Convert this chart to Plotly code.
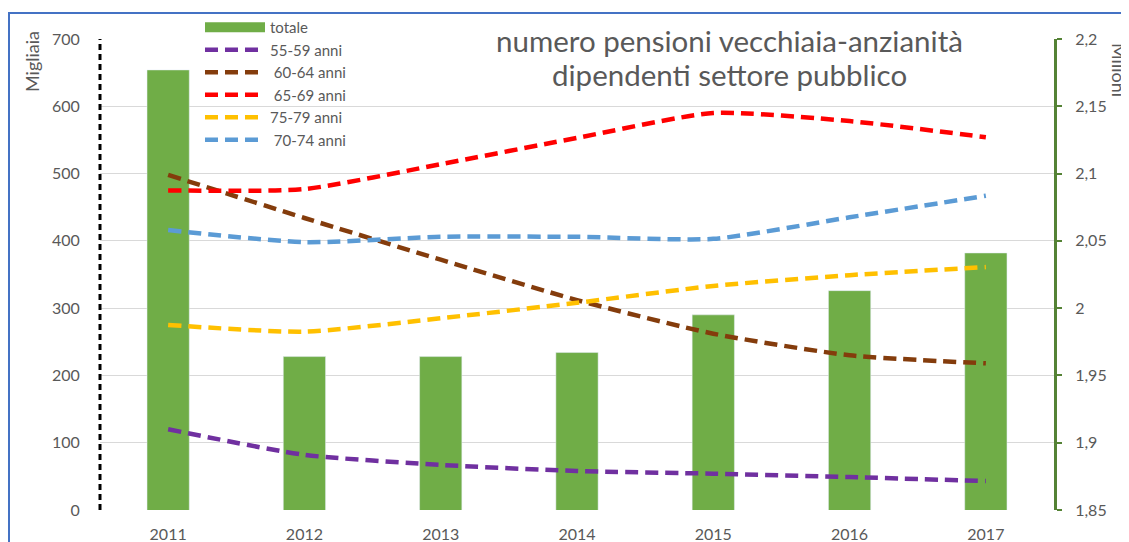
import plotly.graph_objects as go

years = ["2011", "2012", "2013", "2014", "2015", "2016", "2017"]
totale = [2.177, 1.964, 1.964, 1.967, 1.995, 2.013, 2.041]
a55_59 = [120, 82, 67, 58, 54, 49, 43]
a60_64 = [498, 434, 372, 312, 262, 230, 218]
a65_69 = [475, 477, 514, 553, 590, 578, 554]
a75_79 = [275, 265, 285, 308, 333, 349, 361]
a70_74 = [416, 398, 406, 406, 403, 435, 467]

left_ticks = [0, 100, 200, 300, 400, 500, 600, 700]
right_vals = [1.85, 1.9, 1.95, 2.0, 2.05, 2.1, 2.15, 2.2]
right_text = ["1,85", "1,9", "1,95", "2", "2,05", "2,1", "2,15", "2,2"]

gray = "#595959"
font = "Lato"
green = "#70AD47"

# page body has an 8px margin: figure drawn at (8, 8) in the window
PX0, PX1, PY0, PY1 = 100, 1054, 39, 510  # plot area in window pixels
W, H = 1121, 534


def px(x):
    return (x - PX0) / (PX1 - PX0)


def py(y):
    return (PY1 - y) / (PY1 - PY0)


fig = go.Figure()
fig.add_trace(go.Bar(x=years, y=totale, name="totale", marker_color=green,
                     width=0.31, yaxis="y", legendgroup="totale", showlegend=False))
# legend entry for the bars, drawn as a wide block like the original
fig.add_trace(go.Scatter(x=[None], y=[None], name="totale", mode="lines", yaxis="y",
                         legendgroup="totale", line=dict(color=green, width=13)))
series = [
    ("55-59 anni", a55_59, "#7030A0"),
    (" 60-64 anni", a60_64, "#843C0C"),
    (" 65-69 anni", a65_69, "#FF0000"),
    ("75-79 anni", a75_79, "#FFC000"),
    (" 70-74 anni", a70_74, "#5B9BD5"),
]
for name, vals, col in series:
    fig.add_trace(go.Scatter(x=years, y=vals, name=name, mode="lines", yaxis="y2",
                             line=dict(color=col, width=4.5, dash="13px,7px", shape="spline",
                                       smoothing=0.6)))

fig.update_layout(
    width=W, height=H,
    margin=dict(l=PX0 - 8, r=W - (PX1 - 8), t=PY0 - 8, b=H - (PY1 - 8), autoexpand=False),
    plot_bgcolor="white", paper_bgcolor="white",
    font=dict(family=font, color=gray, size=16),
    showlegend=True,
    legend=dict(x=px(200), xanchor="left", y=py(11), yanchor="top",
                bgcolor="rgba(0,0,0,0)", font=dict(size=15, color=gray),
                tracegroupgap=0, itemwidth=60),
    xaxis=dict(type="category", showgrid=False, showline=False, ticks="outside",
               ticklen=10, tickcolor="rgba(0,0,0,0)", tickfont=dict(size=16, color=gray),
               automargin=False),
    yaxis=dict(side="right", range=[1.85, 2.2], tickvals=right_vals, ticktext=right_text,
               showgrid=False, showline=True, linecolor="#548235", linewidth=3,
               ticks="outside", ticklen=5, tickwidth=2, tickcolor="#548235",
               ticklabelstandoff=10, tickfont=dict(size=16, color=gray), zeroline=False,
               automargin=False),
    yaxis2=dict(overlaying="y", side="left", range=[0, 700], tickvals=left_ticks,
                showgrid=True, gridcolor="#D9D9D9", gridwidth=1, zeroline=False,
                showline=False, ticks="outside", ticklen=16, tickcolor="rgba(0,0,0,0)",
                tickfont=dict(size=16, color=gray), automargin=False),
    shapes=[
        dict(type="line", xref="paper", yref="paper", x0=0, x1=0, y0=0, y1=1,
             line=dict(color="black", width=3, dash="6px,4px"), layer="above"),
        dict(type="rect", xref="paper", yref="paper", x0=px(9), x1=1.3, y0=-0.3, y1=py(13),
             line=dict(color="#4472C4", width=2), fillcolor="rgba(0,0,0,0)", layer="above"),
    ],
    annotations=[
        dict(text="numero pensioni vecchiaia-anzianità",
             xref="paper", yref="paper", x=px(729), y=py(40),
             xanchor="center", yanchor="middle",
             showarrow=False, font=dict(size=29.5, color=gray, family=font)),
        dict(text="dipendenti settore pubblico",
             xref="paper", yref="paper", x=px(729), y=py(74),
             xanchor="center", yanchor="middle",
             showarrow=False, font=dict(size=29.5, color=gray, family=font)),
        dict(text="Migliaia", xref="paper", yref="paper", x=px(32), y=py(62),
             xanchor="center", yanchor="middle", textangle=-90, showarrow=False,
             font=dict(size=18, color=gray)),
        dict(text="Milioni", xref="paper", yref="paper", x=px(1119), y=py(70),
             xanchor="center", yanchor="middle", textangle=90, showarrow=False,
             font=dict(size=18, color=gray)),
    ],
)

fig.write_html("out.html")
